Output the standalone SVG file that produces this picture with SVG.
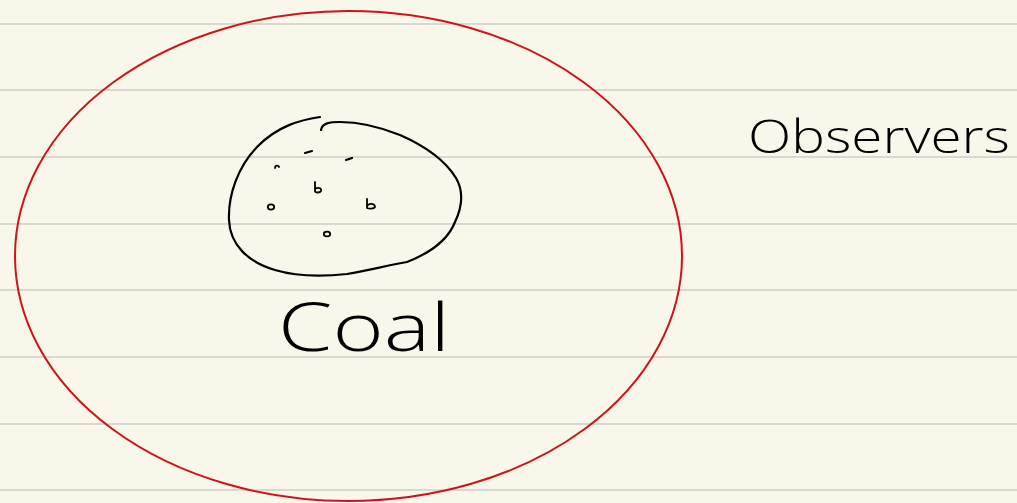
<svg xmlns="http://www.w3.org/2000/svg" width="1017" height="503" viewBox="0 0 1017 503">
<style>
.rule{stroke:#d9d8d0;stroke-width:2}
.ink{fill:none;stroke:#000;stroke-width:2.2;stroke-linecap:round;stroke-linejoin:round}
.dot{fill:none;stroke:#000;stroke-width:1.8;stroke-linecap:round;stroke-linejoin:round}
.hand{font-family:"Open Sans","Noto Sans","Liberation Sans",sans-serif;font-weight:300;fill:#000}
</style>
<rect width="1017" height="503" fill="#f9f7ea"/>
<g id="paper">
<line class="rule" x1="0" y1="24" x2="1017" y2="24"/>
<line class="rule" x1="0" y1="90" x2="1017" y2="90"/>
<line class="rule" x1="0" y1="157" x2="1017" y2="157"/>
<line class="rule" x1="0" y1="224" x2="1017" y2="224"/>
<line class="rule" x1="0" y1="290" x2="1017" y2="290"/>
<line class="rule" x1="0" y1="357" x2="1017" y2="357"/>
<line class="rule" x1="0" y1="424" x2="1017" y2="424"/>
<line class="rule" x1="0" y1="490" x2="1017" y2="490"/>
</g>
<g id="observers-boundary">
<ellipse cx="348.5" cy="256" rx="333.5" ry="245" fill="none" stroke="#d0121b" stroke-width="2"/>
</g>
<g id="coal">
<path class="ink" d="M320,117 C300,120 278,126 258,146 C238,166 228,195 229,220 C230,245 248,262 275,270 C295,276 320,277 347,274 C370,270 385,266 407,262 C430,253 448,240 455,222 C463,205 463,190 456,178 C445,160 425,146 400,135 C380,127 360,122 340,122 C330,122 322,123 321,130"/>
<path class="ink" d="M305,153 l7,-2" stroke-width="3.2"/>
<path class="ink" d="M346,160 l6,-2" stroke-width="3.2"/>
<path class="dot" d="M275,168 c0,-3 4,-3 4,-1"/>
<path class="dot" d="M315,182 l0,9 c0,2 5,2 6,0 c1,-3 -3,-4 -6,-2"/>
<ellipse class="dot" cx="271" cy="207" rx="3.2" ry="2.6"/>
<path class="dot" d="M367,199 l0,9 c2,1 7,1 8,-1 c0,-3 -4,-4 -7,-2"/>
<ellipse class="dot" cx="327" cy="234" rx="3.2" ry="2.4"/>
<text class="hand" x="278" y="351" font-size="66" textLength="172" lengthAdjust="spacingAndGlyphs">Coal</text>
</g>
<g id="observers">
<text class="hand" x="748" y="153" font-size="46" textLength="262" lengthAdjust="spacingAndGlyphs">Observers</text>
</g>
</svg>
